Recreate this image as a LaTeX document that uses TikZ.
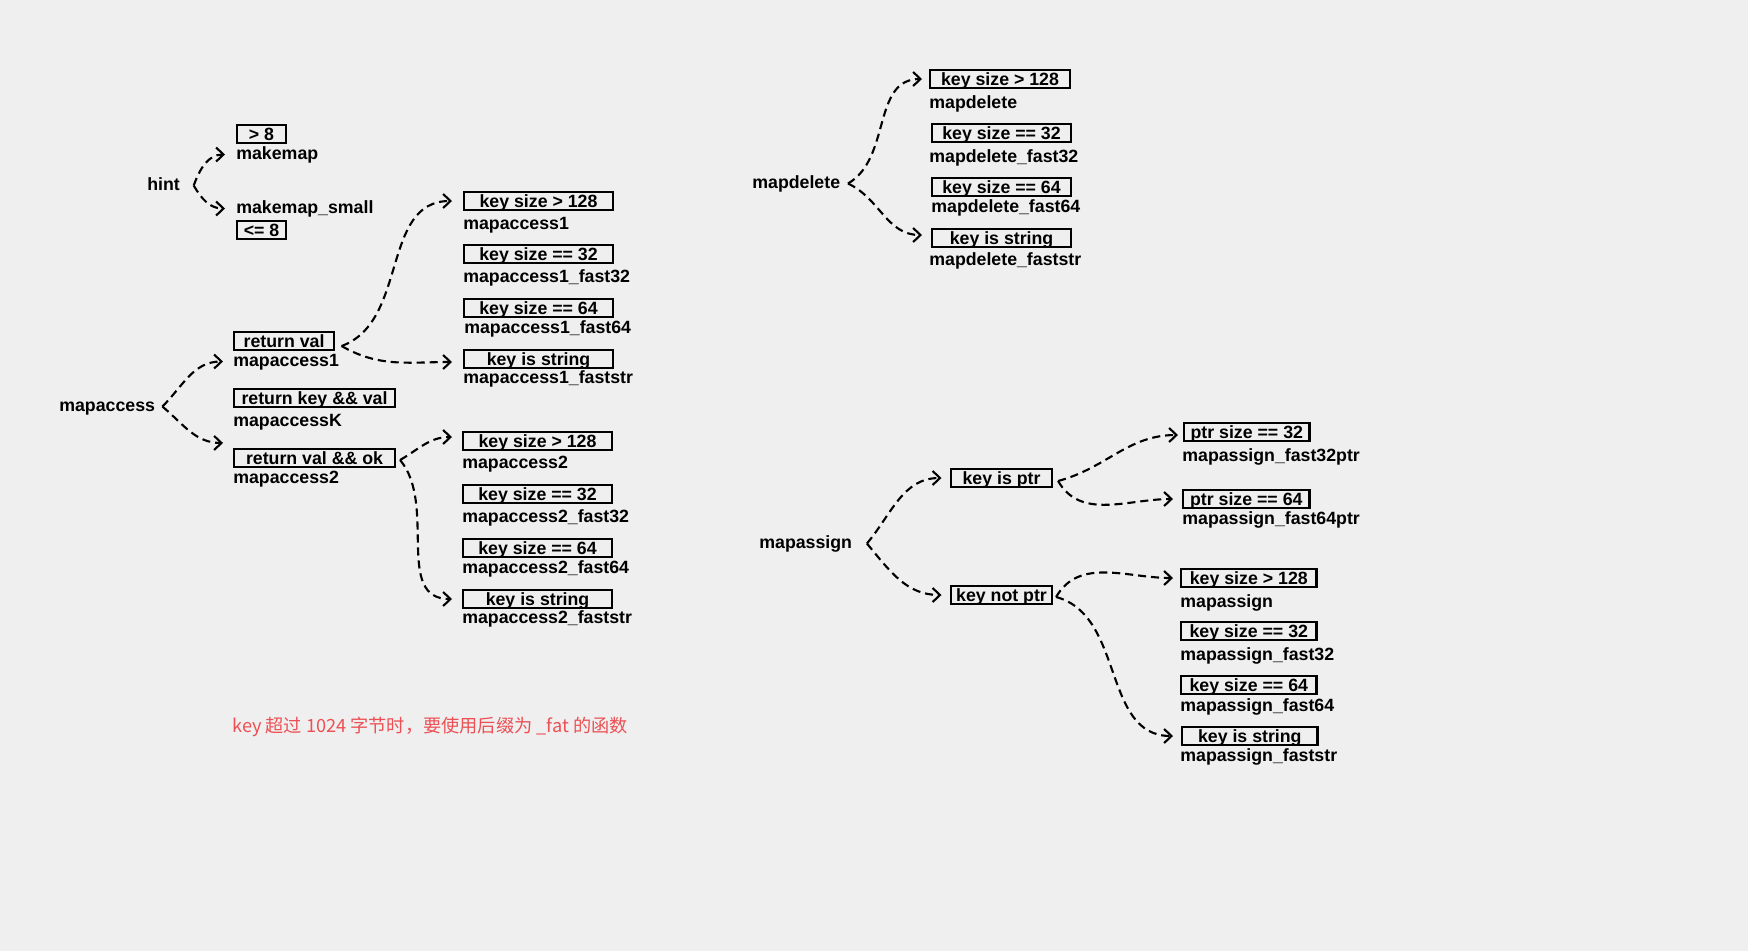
\documentclass[tikz,border=0pt]{standalone}
\usepackage{fontspec}
\setmainfont{Liberation Sans}
\newfontfamily\cjk{Noto Sans CJK SC}
\usepackage{xcolor}
\usetikzlibrary{arrows.meta, positioning, calc}
\definecolor{PaperGray}{RGB}{239,239,239}
\definecolor{NoteRed}{RGB}{236,80,84}

\begin{document}
\begin{tikzpicture}[
  x=0.02cm, y=-0.02cm,
  font=\fontsize{10.1pt}{12pt}\selectfont\bfseries,
  cond/.style={draw, line width=1.2pt, anchor=west, minimum width=#1,
               minimum height=0.36cm, inner xsep=2pt, inner ysep=0pt,
               text height=0.72em, text depth=0pt},
  fn/.style={anchor=base west, inner sep=0pt,
             text height=0.72em, text depth=0.21em},
  lk/.style={line width=1.2pt, dash pattern=on 4.6pt off 2.8pt,
             -{Straight Barb[length=4.2pt, width=8pt]}}
]
  \fill[PaperGray] (0,0) rectangle (1748,951);

  % ---- hint ----
  \node[fn] (hint) at (147,190) {hint};
  \node[cond=0.98cm] (gt8) at (236,134) {> 8};
  \node[fn] (mk)  at (236,159) {makemap};
  \node[fn] (mks) at (236,213) {makemap\_small};
  \node[cond=0.98cm] (le8) at (236,230) {<= 8};
  \draw[lk] ([xshift=0.27cm]hint.east) to[out=70, in=180]  ([xshift=-0.22cm]mk.west);
  \draw[lk] ([xshift=0.27cm]hint.east) to[out=-60, in=180] ([xshift=-0.22cm]mks.west);

  % ---- mapaccess ----
  \node[fn] (ma) at (59,411) {mapaccess};
  \node[cond=2.0cm]  (rv)  at (233,341) {return val};
  \node[fn] (ma1) at (233,366) {mapaccess1};
  \node[cond=3.22cm] (rkv) at (233,398) {return key \&\& val};
  \node[fn] (maK) at (233,426) {mapaccessK};
  \node[cond=3.22cm] (rvo) at (233,458) {return val \&\& ok};
  \node[fn] (ma2) at (233,483) {mapaccess2};
  \draw[lk] ([xshift=0.14cm]ma.east) to[out=45, in=180]  ([xshift=-0.2cm]ma1.west);
  \draw[lk] ([xshift=0.14cm]ma.east) to[out=-40, in=180] ([xshift=-0.2cm, yshift=0.1cm]rvo.north west);

  % mapaccess1 的分支
  \node[cond=2.98cm] (a1k) at (463,201) {key size > 128};
  \node[fn] (a1kf) at (463,229) {mapaccess1};
  \node[cond=2.98cm] (a13) at (463,254) {key size == 32};
  \node[fn] (a13f) at (463,282) {mapaccess1\_fast32};
  \node[cond=2.98cm] (a16) at (463,308) {key size == 64};
  \node[fn] (a16f) at (464,333) {mapaccess1\_fast64};
  \node[cond=2.98cm] (a1s) at (463,359) {key is string};
  \node[fn] (a1sf) at (463,383) {mapaccess1\_faststr};
  \draw[lk] ([xshift=0.13cm, yshift=-0.1cm]rv.east) to[out=20, in=180]  ([xshift=-0.22cm]a1k.west);
  \draw[lk] ([xshift=0.13cm, yshift=-0.1cm]rv.east) to[out=-30, in=180] ([xshift=-0.22cm, yshift=-0.06cm]a1s.west);

  % mapaccess2 的分支
  \node[cond=2.98cm] (a2k) at (462,441) {key size > 128};
  \node[fn] (a2kf) at (462,468) {mapaccess2};
  \node[cond=2.98cm] (a23) at (462,494) {key size == 32};
  \node[fn] (a23f) at (462,522) {mapaccess2\_fast32};
  \node[cond=2.98cm] (a26) at (462,548) {key size == 64};
  \node[fn] (a26f) at (462,573) {mapaccess2\_fast64};
  \node[cond=2.98cm] (a2s) at (462,599) {key is string};
  \node[fn] (a2sf) at (462,623) {mapaccess2\_faststr};
  \draw[lk] ([xshift=0.08cm, yshift=-0.04cm]rvo.east) to[out=30, in=180]  ([xshift=-0.2cm, yshift=0.08cm]a2k.west);
  \draw[lk] ([xshift=0.08cm, yshift=-0.04cm]rvo.east) to[out=-50, in=180] ([xshift=-0.2cm]a2s.west);

  % ---- mapdelete ----
  \node[fn] (md) at (752,188) {mapdelete};
  \node[cond=2.8cm]  (dk) at (929,79)  {key size > 128};
  \node[fn] (dkf) at (929,108) {mapdelete};
  \node[cond=2.78cm] (d3) at (931,133) {key size == 32};
  \node[fn] (d3f) at (929,162) {mapdelete\_fast32};
  \node[cond=2.78cm] (d6) at (931,187) {key size == 64};
  \node[fn] (d6f) at (931,212) {mapdelete\_fast64};
  \node[cond=2.78cm] (ds) at (931,238) {key is string};
  \node[fn] (dsf) at (929,265) {mapdelete\_faststr};
  \draw[lk] ([xshift=0.15cm]md.east) to[out=30, in=180]  ([xshift=-0.14cm]dk.west);
  \draw[lk] ([xshift=0.15cm]md.east) to[out=-25, in=180] ([xshift=-0.18cm, yshift=0.06cm]ds.west);

  % ---- mapassign ----
  \node[fn] (mas) at (759,548) {mapassign};
  \node[cond=2.02cm] (kip) at (950,478) {key is ptr};
  \node[cond=2.02cm] (knp) at (950,595) {key not ptr};
  \draw[lk] ([xshift=0.29cm]mas.east) to[out=50, in=180]  ([xshift=-0.17cm]kip.west);
  \draw[lk] ([xshift=0.29cm]mas.east) to[out=-50, in=180] ([xshift=-0.17cm]knp.west);

  % key is ptr 的分支
  \node[cond=2.51cm] (p3) at (1183,432) {ptr size == 32};
  \node[fn] (p3f) at (1182,461) {mapassign\_fast32ptr};
  \node[cond=2.53cm] (p6) at (1182,499) {ptr size == 64};
  \node[fn] (p6f) at (1182,524) {mapassign\_fast64ptr};
  \draw[lk] ([xshift=0.1cm, yshift=-0.06cm]kip.east) to[out=15, in=180]  ([xshift=-0.1cm, yshift=-0.06cm]p3.west);
  \draw[lk] ([xshift=0.1cm, yshift=-0.06cm]kip.east) to[out=-60, in=180] ([xshift=-0.18cm]p6.west);

  % key not ptr 的分支
  \node[cond=2.71cm] (kk) at (1180,578) {key size > 128};
  \node[fn] (kkf) at (1180,607) {mapassign};
  \node[cond=2.71cm] (k3) at (1180,631) {key size == 32};
  \node[fn] (k3f) at (1180,660) {mapassign\_fast32};
  \node[cond=2.71cm] (k6) at (1180,685) {key size == 64};
  \node[fn] (k6f) at (1180,711) {mapassign\_fast64};
  \node[cond=2.71cm] (ks) at (1181,736) {key is string};
  \node[fn] (ksf) at (1180,761) {mapassign\_faststr};
  \draw[lk] ([xshift=0.06cm, yshift=-0.04cm]knp.east) to[out=60, in=180]  ([xshift=-0.14cm]kk.west);
  \draw[lk] ([xshift=0.06cm, yshift=-0.04cm]knp.east) to[out=-15, in=180] ([xshift=-0.16cm]ks.west);

  % ---- 备注 ----
  \node[anchor=west, inner sep=0pt, text=NoteRed,
        font=\cjk\fontsize{10.35pt}{12pt}\selectfont] (note) at (232,727)
        {key 超过 1024 字节时，要使用后缀为 \_fat 的函数};
\end{tikzpicture}
\end{document}
